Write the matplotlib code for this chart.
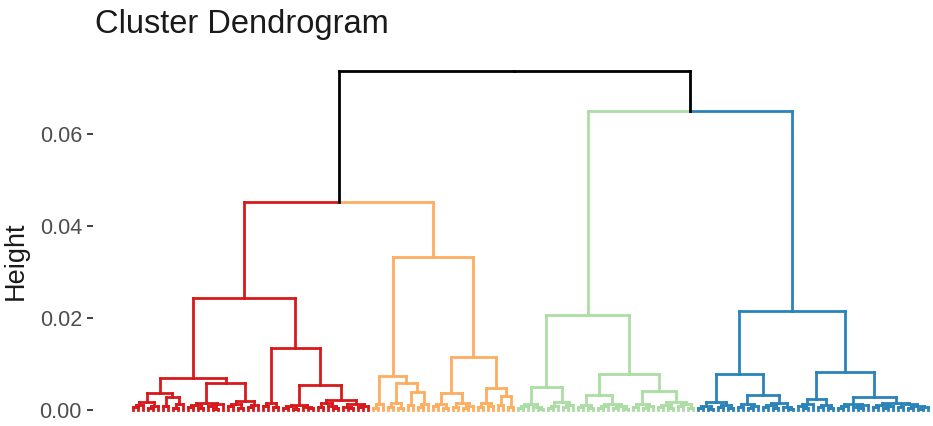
import numpy as np
import matplotlib
matplotlib.use("Agg")
import matplotlib.pyplot as plt
from matplotlib.collections import LineCollection

plt.rcParams["font.family"] = ["Liberation Sans", "DejaVu Sans"]

# Merge height between each pair of neighbouring leaves, in leaf order.
# The tree is rebuilt from these: the largest gap in a range is the top split.
red_gaps = [
    0.0006, 0.0010, 0.0018, 0.0004, 0.0008, 0.0037, 0.0009, 0.0028, 0.0005, 0.0012,
    0.0070, 0.0007, 0.0011, 0.0004, 0.0016, 0.0009, 0.0003, 0.0012, 0.0059, 0.0008,
    0.0013, 0.0005, 0.0019, 0.0006, 0.0010, 0.0243, 0.0009, 0.0015, 0.0006, 0.0135,
    0.0005, 0.0009, 0.0003, 0.0011, 0.0007, 0.0004, 0.0054, 0.0006, 0.0014, 0.0008,
    0.0005, 0.0022, 0.0007, 0.0004, 0.0012, 0.0006, 0.0009,
]
orange_gaps = [
    0.0005, 0.0012, 0.0074, 0.0007, 0.0015, 0.0004, 0.0059, 0.0010, 0.0039, 0.0006,
    0.0013, 0.0333, 0.0008, 0.0013, 0.0005, 0.0037, 0.0007, 0.0016, 0.0004, 0.0009,
    0.0115, 0.0006, 0.0014, 0.0009, 0.0048, 0.0011, 0.0030, 0.0007,
]
green_gaps = [
    0.0004, 0.0008, 0.0012, 0.0006, 0.0003, 0.0050, 0.0005, 0.0009, 0.0017, 0.0007,
    0.0011, 0.0207, 0.0006, 0.0010, 0.0004, 0.0033, 0.0005, 0.0009, 0.0013, 0.0004,
    0.0008, 0.0003, 0.0078, 0.0007, 0.0012, 0.0005, 0.0009, 0.0041, 0.0006, 0.0011,
    0.0004, 0.0017, 0.0008, 0.0012, 0.0005,
]
blue_gaps = [
    0.0005, 0.0009, 0.0003, 0.0017, 0.0006, 0.0011, 0.0004, 0.0078, 0.0007, 0.0012,
    0.0005, 0.0008, 0.0033, 0.0006, 0.0010, 0.0004, 0.0014, 0.0007, 0.0003, 0.0215,
    0.0008, 0.0005, 0.0012, 0.0024, 0.0006, 0.0010, 0.0004, 0.0083, 0.0005, 0.0009,
    0.0013, 0.0006, 0.0004, 0.0010, 0.0028, 0.0007, 0.0011, 0.0004, 0.0008, 0.0015,
    0.0006, 0.0012, 0.0005, 0.0009, 0.0003, 0.0007,
]
# joins between the four clusters
red_orange_join = 0.0452
top_join = 0.0737
green_blue_join = 0.0650

cluster_colors = ["#D7191C", "#FDAE61", "#ABDDA4", "#2B83BA"]
y_ticks = [0.00, 0.02, 0.04, 0.06]
y_tick_labels = ["0.00", "0.02", "0.04", "0.06"]

gaps = np.array(red_gaps + [red_orange_join] + orange_gaps + [top_join]
                + green_gaps + [green_blue_join] + blue_gaps)
sizes = [len(red_gaps) + 1, len(orange_gaps) + 1, len(green_gaps) + 1, len(blue_gaps) + 1]
leaf_cluster = np.repeat(np.arange(4), sizes)

segments = {c: [] for c in cluster_colors + ["black"]}


def build(lo, hi):
    """Return (x, height, colour) of the node covering leaves lo..hi."""
    if lo == hi:
        return float(lo), 0.0, cluster_colors[leaf_cluster[lo]]
    k = lo + int(np.argmax(gaps[lo:hi]))
    h = gaps[k]
    left = build(lo, k)
    right = build(k + 1, hi)
    x = (left[0] + right[0]) / 2
    for cx, ch, col in (left, right):
        segments[col].append([(cx, ch), (cx, h)])
        segments[col].append([(cx, h), (x, h)])
    groups = set(leaf_cluster[lo:hi + 1])
    colour = cluster_colors[groups.pop()] if len(groups) == 1 else "black"
    return x, h, colour


root_x, root_h, _ = build(0, len(gaps))

fig = plt.figure(figsize=(9.33, 4.26), dpi=100)
ax = fig.add_axes([93 / 933, 0, 840 / 933, 370 / 426])

for col, segs in segments.items():
    ax.add_collection(LineCollection(segs, colors=col, linewidths=2.0,
                                     capstyle="projecting"))

ax.set_xlim(-8, 160)
ax.set_ylim(-0.0035, 0.0770)
for s in ax.spines.values():
    s.set_visible(False)
ax.set_xticks([])
ax.set_yticks(y_ticks)
ax.set_yticklabels(y_tick_labels)
ax.tick_params(axis="y", direction="out", length=4, width=1.3, color="#333333",
               labelcolor="#4D4D4D", labelsize=15.5, pad=4)
ax.set_ylabel("Height", fontsize=19.5, color="#1A1A1A")
ax.yaxis.set_label_coords(-64 / 840, 0.446)

fig.text(95 / 933, 1 - 33 / 426, "Cluster Dendrogram", fontsize=23.5,
         color="#1A1A1A", ha="left", va="baseline")

fig.savefig("out.png", dpi=100)
